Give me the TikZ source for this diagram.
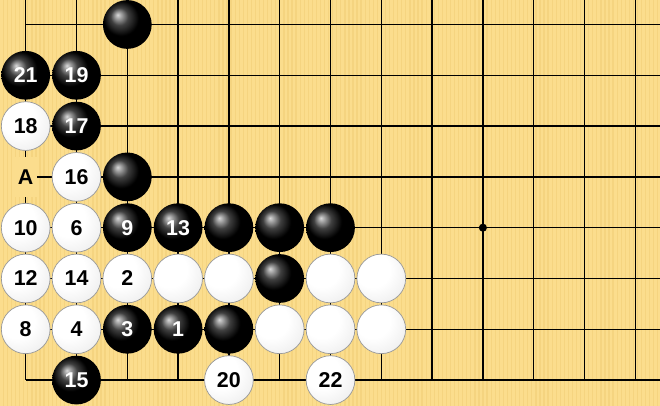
\documentclass[tikz,border=0pt]{standalone}
\usepackage{fontspec}
\setmainfont{Liberation Sans}
\definecolor{boardwood}{RGB}{251,221,141}
\definecolor{boardgrain}{RGB}{245,212,128}
\pgfdeclareradialshading{whiteball}{\pgfpoint{-12bp}{12bp}}{%
  color(0bp)=(white); color(18bp)=(white); color(34bp)=(black!6);
  color(50bp)=(black!22); color(62bp)=(black!40); color(70bp)=(black!50)}
\begin{document}
\begin{tikzpicture}[x=1cm, y=-1cm,
      every node/.style = {font=\bfseries\fontsize{12}{13}\selectfont},
      bstone/.style = {circle, inner sep=0pt, minimum size=0.96cm,
        shading=ball, ball color=black, text=white},
      wstone/.style = {circle, inner sep=0pt, minimum size=0.96cm,
        draw=black!40, line width=0.4pt, shading=whiteball, text=black}]
  \fill[boardwood] (-0.506,-0.482) rectangle (12.486,7.51);
  \useasboundingbox (-0.506,-0.482) rectangle (12.486,7.51);
  % wood grain
  \foreach \x in {-0.45,-0.37,...,12.5}
    \fill[boardgrain] (\x,-0.482) rectangle ++(0.025,8);
  % board
  \foreach \r in {0,...,7}
    \draw[line width=0.7pt] (0,\r) -- (12.486,\r);
  \foreach \c in {0,...,12}
    \draw[line width=0.7pt] (\c,-0.482) -- (\c,7);
  \fill (9,4) circle (0.08);
  % label
  \node[fill=boardwood, inner sep=0pt, minimum width=0.46cm,
    minimum height=0.78cm] (pA) at (0,3) {A};
  % black stones
  \foreach \c/\r/\n in {2/0/, 0/1/21, 1/1/19, 1/2/17, 2/3/, 2/4/9, 3/4/13,
      4/4/, 5/4/, 6/4/, 5/5/, 2/6/3, 3/6/1, 4/6/, 1/7/15}
    \node[bstone] (s\c\r) at (\c,\r) {\n};
  % white stones
  \foreach \c/\r/\n in {0/2/18, 1/3/16, 0/4/10, 1/4/6, 0/5/12, 1/5/14,
      2/5/2, 3/5/, 4/5/, 6/5/, 7/5/, 0/6/8, 1/6/4, 5/6/, 6/6/, 7/6/,
      4/7/20, 6/7/22}
    \node[wstone] (s\c\r) at (\c,\r) {\n};
\end{tikzpicture}
\end{document}
